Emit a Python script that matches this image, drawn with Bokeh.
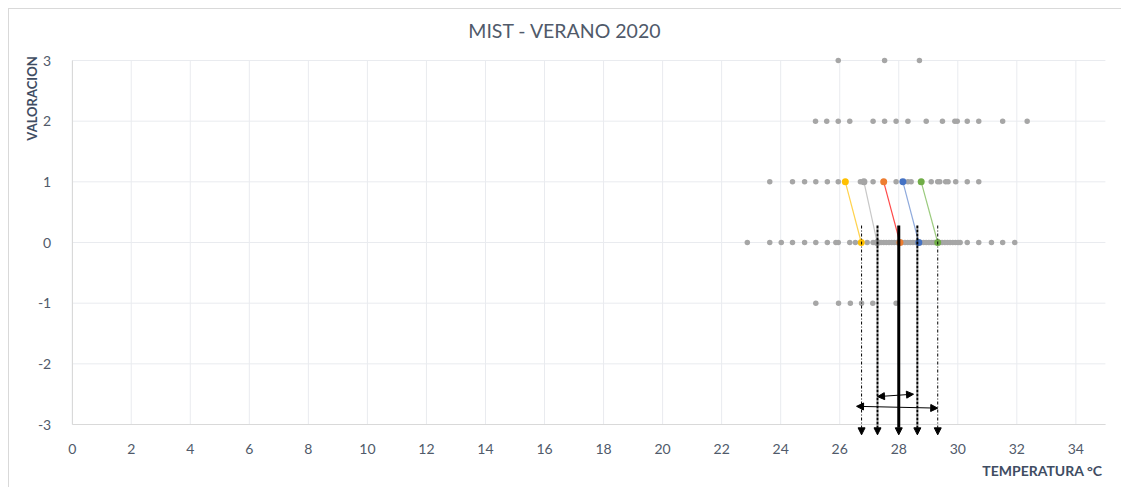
import math
from bokeh.plotting import figure
from bokeh.models import Range1d, FixedTicker, Label, Arrow, NormalHead, ColumnDataSource
from bokeh.embed import file_html
from bokeh.resources import INLINE

# ---------------- data ----------------
TITLE = "MIST -  VERANO 2020"
X_LABEL = "TEMPERATURA °C"
Y_LABEL = "VALORACION"
x_ticks = [0, 2, 4, 6, 8, 10, 12, 14, 16, 18, 20, 22, 24, 26, 28, 30, 32, 34]
y_ticks = [-3, -2, -1, 0, 1, 2, 3]
x_min, x_max = 0, 35
y_min, y_max = -3, 3

# individual votes (temperature) for each valoracion level
temps_plus3 = [25.95, 27.52, 28.70]
temps_plus2 = [25.18, 25.56, 25.95, 26.34, 27.13, 27.52, 27.91, 28.31, 28.93,
               29.48, 29.90, 29.98, 30.32, 30.71, 31.52, 32.35]
temps_plus1 = [23.63, 24.40, 24.81, 25.19, 25.58, 25.95, 26.70, 27.13, 27.91,
               28.31, 28.42, 29.10, 29.32, 29.39, 29.59, 29.67, 29.93, 30.32, 30.71]
temps_zero = [22.87, 23.63, 24.02, 24.40, 24.81, 25.19, 25.58, 25.87, 25.95,
              26.34, 26.53, 26.93, 27.13, 27.31, 27.40, 27.49, 27.58, 27.67,
              27.76, 27.85, 27.94, 28.03, 28.12, 28.21, 28.30, 28.39, 28.48,
              28.57, 28.66, 28.75, 28.84, 28.93, 29.02, 29.11, 29.20, 29.29,
              29.38, 29.47, 29.56, 29.65, 29.74, 29.83, 29.92, 30.01, 30.08,
              30.32, 30.71, 31.14, 31.52, 31.93]
temps_minus1 = [25.19, 25.96, 26.36, 26.74, 27.12, 27.91]

# highlighted series: temperature at valoracion 1 and at valoracion 0
series_colors = ["#FFC000", "#A5A5A5", "#ED7D31", "#4472C4", "#70AD47"]
series_line_colors = ["#FFD24D", "#C8C8C8", "#FF4B4B", "#8FAADC", "#9BCB7E"]
series_t_at1 = [26.19, 26.82, 27.49, 28.14, 28.76]
series_t_at0 = [26.73, 27.27, 28.04, 28.68, 29.32]

# vertical marker arrows
marker_temps = [26.74, 27.28, 28.00, 28.63, 29.32]
marker_widths = [1, 2, 3, 2, 1]
marker_dashes = ["3 2 1 2", "3 1", "solid", "3 1", "3 2 1 2"]
marker_top = 0.28
marker_bottom = -3.17

# horizontal range arrows
range_start_t = [27.28, 26.57]
range_end_t = [28.50, 29.32]
range_start_v = [-2.54, -2.70]
range_end_v = [-2.50, -2.73]

# ---------------- figure ----------------
TEXT = "#505A6A"
LABEL_COLOR = "#3F4D63"
W, H = 1113, 479
# frame covers the whole canvas; data extents chosen so that the plot area
# (0..35, -3..3) sits where the chart's plot area sits
px_per_x = 29.52
px_per_y = 60.67
left_pad, top_pad = 62.7, 51.0
xr = Range1d(x_min - left_pad / px_per_x, x_min + (W - left_pad) / px_per_x)
yr = Range1d(y_max - (H - top_pad) / px_per_y, y_max + top_pad / px_per_y)

p = figure(width=W, height=H, output_backend="svg", toolbar_location=None,
           x_range=xr, y_range=yr, min_border=0)
p.title.visible = False
p.styles = {"margin-left": "8px", "margin-top": "8px",
            "border-left": "1px solid #D9D9D9", "border-top": "1px solid #D9D9D9"}
p.outline_line_color = None
p.background_fill_color = "white"
p.border_fill_color = "white"
p.xgrid.visible = False
p.ygrid.visible = False

# grid lines (computed from the tick lists)
GRID = "#E9EBEF"
p.segment(x0=x_ticks, y0=[y_min] * len(x_ticks), x1=x_ticks, y1=[y_max] * len(x_ticks),
          line_color=GRID, line_width=1)
p.segment(x0=[x_min] * len(y_ticks), y0=y_ticks, x1=[x_max] * len(y_ticks), y1=y_ticks,
          line_color=GRID, line_width=1)

# axes placed at the plot area's edges
p.xaxis.fixed_location = y_min
p.yaxis.fixed_location = x_min
p.xaxis.bounds = (x_min, x_max)
p.yaxis.bounds = (y_min, y_max)
p.xaxis.ticker = FixedTicker(ticks=x_ticks)
p.yaxis.ticker = FixedTicker(ticks=y_ticks)
p.yaxis.major_label_overrides = {t: str(t) for t in y_ticks}
for ax in (p.xaxis[0], p.yaxis[0]):
    ax.major_tick_line_color = None
    ax.minor_tick_line_color = None
    ax.axis_line_color = "#D9D9D9"
    ax.major_label_text_font = "Lato"
    ax.major_label_text_font_size = "14px"
    ax.major_label_text_color = TEXT
p.xaxis.major_label_standoff = 13
p.yaxis.major_label_standoff = 15

# gray votes
gx, gy = [], []
for lvl, arr in [(3, temps_plus3), (2, temps_plus2), (1, temps_plus1), (0, temps_zero), (-1, temps_minus1)]:
    gx += arr
    gy += [lvl] * len(arr)
p.scatter(gx, gy, size=5.5, color="#A6A6A6", line_color=None)

# connecting lines and highlighted points
src = ColumnDataSource(dict(t1=series_t_at1, t0=series_t_at0, v1=[1] * 5, v0=[0] * 5,
                            c=series_colors, lc=series_line_colors))
p.segment(x0="t1", y0="v1", x1="t0", y1="v0", source=src, line_color="lc", line_width=1.2)
p.scatter(x="t1", y="v1", source=src, size=7, color="c", line_color=None)
p.scatter(x="t0", y="v0", source=src, size=7, color="c", line_color=None)

# vertical arrows
for t, w, d in zip(marker_temps, marker_widths, marker_dashes):
    p.add_layout(Arrow(x_start=t, y_start=marker_top, x_end=t, y_end=marker_bottom,
                       line_width=w, line_dash=d, line_color="black",
                       end=NormalHead(size=7, fill_color="black", line_color="black", line_width=1)))

# horizontal double arrows
for xs, xe, ys, ye in zip(range_start_t, range_end_t, range_start_v, range_end_v):
    p.add_layout(Arrow(x_start=xs, y_start=ys, x_end=xe, y_end=ye, line_width=1, line_color="black",
                       start=NormalHead(size=7, fill_color="black", line_color="black", line_width=1),
                       end=NormalHead(size=7, fill_color="black", line_color="black", line_width=1)))

# texts
p.add_layout(Label(x=16.78, y=3.49, text=TITLE, text_align="center", text_baseline="middle",
                   text_font="Lato", text_font_size="19.5px", text_color=TEXT))
p.add_layout(Label(x=-1.355, y=2.374, text=Y_LABEL, angle=math.pi / 2, text_align="center",
                   text_baseline="middle", text_font="Lato", text_font_style="bold",
                   text_font_size="13px", text_color=LABEL_COLOR))
p.add_layout(Label(x=34.90, y=-3.758, text=X_LABEL, text_align="right", text_baseline="middle",
                   text_font="Lato", text_font_style="bold", text_font_size="14px",
                   text_color=LABEL_COLOR))

open("out.html", "w").write(file_html(p, INLINE))
